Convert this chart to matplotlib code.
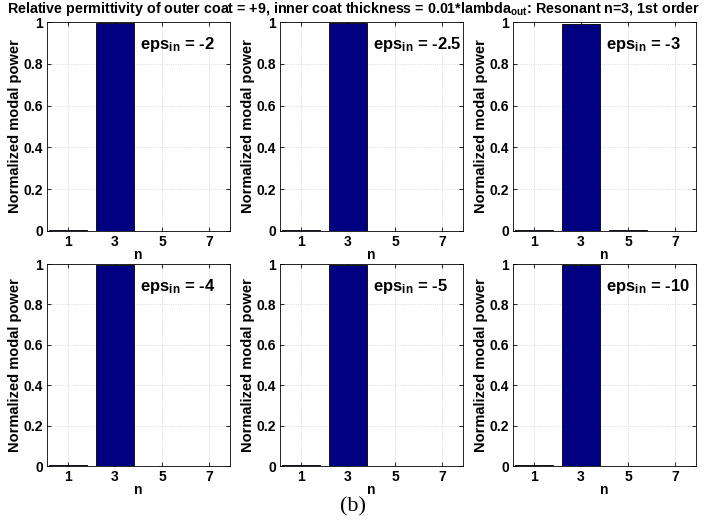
import matplotlib
matplotlib.use("Agg")
import matplotlib.pyplot as plt
import numpy as np

plt.rcParams['font.family'] = ['Liberation Sans', 'DejaVu Sans']
plt.rcParams['font.weight'] = 'bold'
plt.rcParams['mathtext.fontset'] = 'custom'
plt.rcParams['mathtext.rm'] = 'Liberation Sans:bold'
plt.rcParams['mathtext.default'] = 'rm'

# modal index n
modos = [1, 3, 5, 7]
# permissividade da camada interna de cada painel
eps_in = ['-2', '-2.5', '-3', '-4', '-5', '-10']
# potencia modal normalizada
potencia = [
    [0.006, 0.995, 0.002, 0.002],
    [0.004, 0.996, 0.002, 0.001],
    [0.006, 0.990, 0.003, 0.002],
    [0.004, 0.996, 0.002, 0.001],
    [0.005, 0.995, 0.002, 0.001],
    [0.007, 0.993, 0.002, 0.001],
]
yticks = [0, 0.2, 0.4, 0.6, 0.8, 1]

fig = plt.figure(figsize=(7.06, 5.27), dpi=100)
W, H = 706.0, 527.0
lefts = [47, 280, 513]
larg = 183
linhas = [(22, 231), (264, 466)]

for k in range(6):
    i, j = k // 3, k % 3
    topo, base = linhas[i]
    ax = fig.add_axes([lefts[j] / W, 1 - base / H, larg / W, (base - topo) / H])
    ax.bar(modos, potencia[k], width=1.6, color='#000080', edgecolor='black', linewidth=0.6, zorder=3)
    ax.set_xlim(0.1, 7.9)
    ax.set_ylim(0, 1)
    ax.set_xticks(modos)
    ax.set_yticks(yticks)
    ax.set_yticklabels(['0', '0.2', '0.4', '0.6', '0.8', '1'])
    ax.tick_params(direction='in', top=True, right=True, labelsize=10, length=3, width=0.6, pad=3)
    ax.grid(True, linestyle=':', color='#d0d0d0', linewidth=0.6, zorder=0)
    ax.set_ylabel('Normalized modal power', fontsize=10.5, fontweight='bold', labelpad=1)
    ax.set_xlabel('n', fontsize=10, fontweight='bold', labelpad=-1)
    for s in ax.spines.values():
        s.set_linewidth(0.6)
    ax.text(0.51, 0.89, 'eps$_{in}$ = ' + eps_in[k], transform=ax.transAxes,
            fontsize=12, fontweight='bold', ha='left', va='center')

fig.text(0.5, 1 - 9 / H, 'Relative permittivity of outer coat = +9, inner coat thickness = 0.01*lambda$_{out}$: Resonant n=3, 1st order',
         ha='center', va='center', fontsize=10.3, fontweight='bold', zorder=10)
fig.text(0.5, 1 - 507 / H, '(b)', ha='center', va='center', fontsize=16,
         family=['Liberation Serif'], fontweight='normal')

plt.savefig('out.png', dpi=100)
